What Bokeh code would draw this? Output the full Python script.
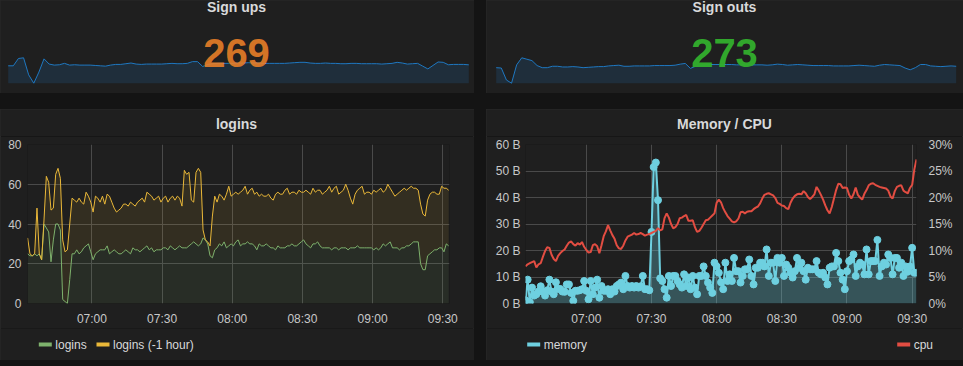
import pandas as pd
from bokeh.plotting import figure
from bokeh.layouts import row, column
from bokeh.models import (Range1d, LinearAxis, FixedTicker, DatetimeTickFormatter,
                          PrintfTickFormatter, Label, BoxAnnotation, ColumnDataSource, Plot)
from bokeh.embed import file_html
from bokeh.resources import INLINE

# ---------------- data ----------------
DAY = "2017-06-01"

signups_title = "Sign ups"
signups_value = "269"
signups = [255, 255, 360, 370, 125, 5, 165, 355, 280, 265,
           270, 290, 265, 270, 265, 265, 265, 260, 255, 250,
           265, 275, 275, 285, 295, 280, 275, 280, 280, 280,
           280, 285, 290, 285, 285, 290, 315, 315, 245, 275,
           285, 290, 290, 290, 290, 295, 295, 300, 295, 295,
           290, 290, 290, 290, 290, 295, 300, 305, 305, 295,
           290, 290, 295, 290, 290, 285, 285, 290, 290, 285,
           285, 285, 285, 280, 285, 290, 305, 295, 280, 285,
           290, 250, 210, 260, 310, 305, 270, 275, 275, 275, 269]

signouts_title = "Sign outs"
signouts_value = "273"
signouts = [230, 225, 55, 10, 270, 370, 350, 330, 260, 230,
            230, 250, 250, 240, 240, 245, 240, 230, 235, 240,
            245, 245, 255, 260, 265, 250, 250, 255, 255, 255,
            255, 260, 260, 260, 260, 265, 280, 290, 220, 250,
            260, 270, 275, 275, 275, 275, 275, 270, 270, 270,
            270, 270, 270, 265, 270, 280, 275, 265, 270, 275,
            270, 265, 260, 260, 260, 260, 255, 255, 255, 255,
            260, 265, 260, 255, 250, 265, 275, 270, 265, 260,
            225, 200, 230, 275, 275, 255, 250, 245, 250, 255, 250]

# logins, one value per minute from 06:32:30
logins = [25, 24, 24, 25, 24, 25, 22, 40, 38, 36,
          21, 32, 40, 40, 37, 2, 1, 0, 12, 25,
          25, 27, 25, 26, 28, 29, 30, 26, 22, 25,
          26, 27, 27, 27, 29, 25, 26, 27, 26, 25,
          25, 26, 27, 26, 25, 28, 27, 27, 26, 27,
          28, 29, 27, 28, 26, 27, 27, 27, 28, 28,
          27, 29, 28, 27, 28, 29, 28, 28, 28, 29,
          30, 31, 30, 29, 30, 33, 32, 30, 24, 23,
          27, 28, 30, 29, 31, 28, 29, 30, 29, 31,
          32, 29, 30, 30, 31, 30, 30, 29, 27, 30,
          29, 29, 30, 29, 28, 28, 27, 29, 28, 28,
          28, 29, 29, 30, 29, 29, 30, 31, 32, 30,
          29, 28, 30, 30, 31, 29, 28, 28, 28, 28,
          27, 28, 28, 27, 28, 28, 28, 27, 28, 28,
          28, 29, 28, 28, 28, 28, 28, 28, 27, 28,
          27, 28, 30, 29, 30, 31, 28, 28, 28, 27,
          28, 28, 29, 29, 30, 31, 31, 31, 20, 17,
          17, 24, 25, 26, 27, 27, 28, 28, 26, 30, 29]

# logins (-1 hour), stacked on top of logins in the panel
logins_prev = [8, 1, 0, 0, 24, 0, 0, 2, 26, 25,
               26, 16, 25, 28, 26, 30, 25, 27, 28, 28,
               27, 24, 28, 25, 22, 27, 24, 25, 24, 29,
               27, 24, 27, 23, 26, 29, 25, 21, 20, 22,
               23, 24, 23, 23, 26, 22, 22, 24, 26, 26,
               23, 27, 28, 26, 26, 26, 27, 24, 25, 26,
               24, 24, 26, 25, 26, 24, 21, 39, 37, 37,
               22, 20, 36, 39, 36, 4, 0, 1, 5, 21,
               27, 23, 25, 25, 21, 27, 30, 24, 26, 25,
               23, 27, 27, 29, 24, 27, 28, 26, 29, 24,
               26, 25, 24, 26, 25, 24, 28, 27, 27, 27,
               29, 29, 26, 26, 27, 26, 27, 25, 24, 27,
               27, 27, 28, 26, 26, 28, 27, 28, 29, 31,
               29, 30, 31, 28, 28, 29, 32, 30, 25, 22,
               27, 28, 30, 31, 27, 28, 28, 27, 30, 28,
               30, 30, 26, 28, 30, 27, 28, 26, 27, 29,
               29, 30, 28, 29, 29, 27, 27, 26, 30, 28,
               27, 28, 30, 30, 29, 28, 27, 31, 32, 28, 28]

# memory (B) and cpu (%), one value per minute from 06:32:00
memory = [1.2, 9, 0.5, 6, 3, 3.5, 4.5, 6.5, 4.5, 3,
          5, 9, 4.5, 3.5, 8, 5.5, 5.5, 4.5, 4.4, 7.2,
          7.2, 4, 1, 4.8, 4.8, 5, 5.4, 8.5, 4.8, 1.6,
          8.5, 3.5, 6, 9, 2.2, 6.6, 4.8, 4.8, 5.4, 3.5,
          5.4, 4.5, 6.6, 7.2, 7.9, 5.4, 10.4, 6.6, 6, 6.6,
          6, 6.6, 6, 6.5, 10.4, 5.4, 5.4, 5, 27, 51.5,
          53.2, 39, 9.5, 8.5, 5.4, 2.2, 10.4, 6.6, 10.4, 10.4,
          8.5, 7.2, 6, 11, 6.6, 9.8, 5.4, 10.4, 6, 3.5,
          10.4, 10.4, 14, 10.4, 7.9, 6, 4, 15.4, 14, 11.6,
          8, 5.4, 15.4, 8.5, 11, 8.5, 17.2, 12.2, 12.2, 7.9,
          10.4, 12.9, 12.9, 16.6, 10.4, 7.2, 13.5, 13.5, 15.4, 15.4,
          14, 20.4, 10.4, 15.4, 15.4, 8.5, 17.2, 15.4, 17.2, 10.4,
          14.7, 13.5, 11.6, 9.8, 12.2, 17.2, 13.5, 15.4, 12.2, 9,
          13.5, 12.9, 12.9, 12.9, 16, 11.6, 11, 11.6, 9.8, 7.2,
          13.5, 14, 14, 19.1, 16, 11.6, 9, 5.4, 12.2, 16,
          16.6, 18.5, 10.4, 14, 15.4, 14.7, 11, 20.4, 11, 16,
          16, 16, 24, 10.4, 14, 15.4, 14.7, 18.5, 17.2, 11,
          17.2, 17.2, 13.5, 15.4, 10.4, 14, 12, 14, 21, 11.6, 11.6]

cpu = [7.0, 7.4, 7.6, 7.8, 8.0, 6.8, 7.4, 7.6, 8.8, 9.9,
       10.6, 10.5, 9.2, 8.4, 8.0, 9.0, 9.5, 9.9, 10.2, 10.9,
       11.5, 11.7, 11.2, 10.9, 11.4, 11.1, 11.6, 10.7, 10.1, 9.6,
       9.7, 11.0, 11.2, 10.8, 9.5, 11.0, 12.7, 13.6, 14.8, 13.8,
       12.9, 12.2, 11.0, 10.4, 10.3, 10.9, 11.9, 12.6, 12.8, 13.0,
       13.3, 13.0, 13.1, 13.3, 13.1, 12.8, 13.0, 13.1, 13.3, 13.5,
       13.7, 14.2, 13.8, 14.0, 16.1, 17.0, 16.2, 15.0, 14.2, 14.4,
       15.0, 16.1, 16.2, 16.5, 16.7, 15.6, 15.6, 15.7, 14.4, 13.5,
       13.7, 14.3, 15.0, 15.7, 15.8, 16.2, 16.6, 17.0, 19.0, 19.6,
       19.1, 18.0, 17.2, 16.5, 16.0, 15.5, 15.3, 15.5, 16.0, 17.2,
       17.3, 17.0, 17.3, 17.4, 17.4, 17.8, 18.1, 18.3, 18.9, 19.8,
       20.5, 20.7, 20.8, 20.6, 20.4, 19.9, 19.0, 18.8, 18.5, 18.4,
       18.0, 17.8, 19.0, 19.8, 20.3, 20.6, 20.7, 20.6, 21.2, 20.8,
       20.1, 19.7, 20.1, 20.6, 22.0, 21.3, 20.5, 19.6, 18.5, 17.6,
       17.0, 18.2, 19.8, 21.4, 22.6, 22.5, 21.8, 21.9, 21.8, 20.5,
       19.8, 20.6, 21.9, 20.5, 20.0, 19.6, 20.7, 21.4, 22.3, 22.6,
       22.7, 22.4, 22.2, 22.0, 21.9, 21.8, 21.7, 21.3, 20.2, 19.8,
       21.2, 22.0, 22.2, 22.3, 21.3, 21.0, 20.8, 21.8, 22.4, 25.3, 27.2]

time_ticks = ["07:00", "07:30", "08:00", "08:30", "09:00", "09:30"]
logins_yticks = [0, 20, 40, 60, 80]
memory_yticks = [0, 10, 20, 30, 40, 50, 60]
cpu_yticks = [0, 5, 10, 15, 20, 25, 30]

# ---------------- styles ----------------
PAGE_BG = "#141414"
PANEL_BG = "#1f1f1f"
PANEL_EDGE = "#2a2a2a"
TEXT = "#d8d9da"
TICK = "#c8c8c8"
GRID = "#4a4a4a"
FONT = "Liberation Sans"
SPARK_LINE = "rgb(31,120,193)"
SPARK_FILL = "rgb(31,118,189)"
GREEN = "#7EB26D"
YELLOW = "#EAB839"
CYAN = "#6ED0E0"
RED = "#E24D42"
EDGE_STYLE = {"outline": f"1px solid {PANEL_EDGE}", "outline-offset": "-1px"}

# text strips (header, legend) should not have their frame aligned to the graph
CAN_UNALIGN = "frame_align" in Plot.properties()


def ts(hm):
    return pd.Timestamp(f"{DAY} {hm}")


def blank(width, height):
    p = figure(width=width, height=height, toolbar_location=None, output_backend="svg",
               min_border=0, x_axis_location=None, y_axis_location=None,
               x_range=Range1d(0, 1), y_range=Range1d(0, 1),
               background_fill_color=PANEL_BG, border_fill_color=PANEL_BG,
               outline_line_color=None)
    p.grid.visible = False
    if CAN_UNALIGN:
        p.frame_align = False
    return p


def text(p, x, y, s, size, color, bold=False, align="center"):
    p.add_layout(Label(x=x, y=y, x_units="screen", y_units="screen", text=s,
                       text_align=align, text_baseline="middle", text_font=FONT,
                       text_font_size=size, text_font_style="bold" if bold else "normal",
                       text_color=color))


def stat_panel(title, value, value_color, series, width, spark_left, spark_right, cx):
    h = 93
    p = blank(width, h)
    n = len(series) - 1
    span_px = spark_right - spark_left
    p.x_range = Range1d(-spark_left * n / span_px, (width - spark_left) * n / span_px)
    lo, hi = min(series), max(series)
    per_px = (hi - lo) / 25.4
    p.y_range = Range1d(lo - 10.3 * per_px, hi + (h - 35.7) * per_px)
    src = ColumnDataSource(dict(x=list(range(len(series))), y=series))
    p.varea(x="x", y1=lo, y2="y", source=src, fill_color=SPARK_FILL, fill_alpha=0.18)
    p.line(x="x", y="y", source=src, line_color=SPARK_LINE, line_width=1)
    text(p, cx, h - 6.2, title, "14px", TEXT, bold=True)
    text(p, cx, h - 52.1, value, "40px", value_color, bold=True)
    p.styles = EDGE_STYLE
    return p


def header(title, width, frame_left, cx):
    p = blank(width, 27)
    off = 0 if CAN_UNALIGN else frame_left
    text(p, cx - off, 12.5, title, "14px", TEXT, bold=True)
    return p


def legend_strip(width, frame_left, entries):
    # entries: (swatch_left, label, color) in panel pixels
    p = blank(width, 32)
    off = 0 if CAN_UNALIGN else frame_left
    for left, label, color in entries:
        x0 = left - off
        p.add_layout(BoxAnnotation(left=x0, right=x0 + 13, bottom=14, top=18,
                                   left_units="screen", right_units="screen",
                                   bottom_units="screen", top_units="screen",
                                   fill_color=color, fill_alpha=1, line_color=None))
        text(p, x0 + 16.5, 16, label, "12px", TEXT, align="left")
    return p


def style_axis(ax, standoff):
    ax.axis_line_color = None
    ax.major_tick_line_color = None
    ax.minor_tick_line_color = None
    ax.major_tick_out = 0
    ax.major_tick_in = 0
    ax.major_label_standoff = standoff
    ax.major_label_text_color = TICK
    ax.major_label_text_font = FONT
    ax.major_label_text_font_size = "12px"


def graph(width, x_start, x_end, y_max, yticks, border_left, border_right):
    p = figure(width=width, height=192, x_axis_type="datetime",
               x_range=Range1d(x_start, x_end), y_range=Range1d(0, y_max),
               toolbar_location=None, output_backend="svg",
               min_border_left=border_left, min_border_right=border_right,
               min_border_top=8, min_border_bottom=24,
               background_fill_color=PANEL_BG, border_fill_color=PANEL_BG,
               outline_line_color=None)
    p.xaxis.ticker = FixedTicker(ticks=[ts(t).value / 1e6 for t in time_ticks])
    p.xaxis.formatter = DatetimeTickFormatter(minutes="%H:%M", hourmin="%H:%M",
                                              hours="%H:%M")
    p.yaxis.ticker = FixedTicker(ticks=yticks)
    style_axis(p.xaxis[0], 8)
    p.xgrid.grid_line_color = GRID
    p.ygrid.grid_line_color = GRID
    return p


# ---------------- stat panels ----------------
p_up = stat_panel(signups_title, signups_value, "rgba(237,129,40,0.89)", signups,
                  474, 7.7, 468.3, 236)
p_out = stat_panel(signouts_title, signouts_value, "rgba(50,172,45,0.97)", signouts,
                   477, 9.7, 469.7, 238)

# ---------------- logins ----------------
LOG_LEFT = 27
login_times = pd.date_range(ts("06:32:30"), periods=len(logins), freq="min")
stack_top = [a + b for a, b in zip(logins, logins_prev)]
lsrc = ColumnDataSource(dict(t=login_times, a=logins, top=stack_top))
p_log = graph(474, ts("06:32:27"), ts("09:32:52"), 80, logins_yticks, LOG_LEFT, 25)
style_axis(p_log.yaxis[0], 6)
p_log.varea(x="t", y1=0, y2="a", source=lsrc, fill_color=GREEN, fill_alpha=0.1)
p_log.varea(x="t", y1="a", y2="top", source=lsrc, fill_color=YELLOW, fill_alpha=0.1)
p_log.line(x="t", y="a", source=lsrc, line_color=GREEN, line_width=1)
p_log.line(x="t", y="top", source=lsrc, line_color=YELLOW, line_width=1)
left_panel = column(header("logins", 474, LOG_LEFT, 236), p_log,
                    legend_strip(474, LOG_LEFT, [(38.3, "logins", GREEN),
                                                 (96, "logins (-1 hour)", YELLOW)]),
                    spacing=0)
left_panel.styles = EDGE_STYLE

# ---------------- memory / cpu ----------------
MEM_LEFT = 39
mem_times = pd.date_range(ts("06:32:00"), periods=len(memory), freq="min")
msrc = ColumnDataSource(dict(t=mem_times, mem=memory, cpu=cpu))
p_mem = graph(477, ts("06:32:00"), ts("09:32:00"), 60, memory_yticks, MEM_LEFT, 47)
p_mem.yaxis.formatter = PrintfTickFormatter(format="%d B")
style_axis(p_mem.yaxis[0], 5)
p_mem.extra_y_ranges = {"cpu": Range1d(0, 30)}
cpu_axis = LinearAxis(y_range_name="cpu", ticker=FixedTicker(ticks=cpu_yticks),
                      formatter=PrintfTickFormatter(format="%d%%"))
style_axis(cpu_axis, 12)
p_mem.add_layout(cpu_axis, "right")
p_mem.varea(x="t", y1=0, y2="mem", source=msrc, fill_color=CYAN, fill_alpha=0.3)
p_mem.line(x="t", y="mem", source=msrc, line_color=CYAN, line_width=2)
p_mem.scatter(x="t", y="mem", source=msrc, size=7, fill_color=CYAN, line_color=CYAN)
p_mem.line(x="t", y="cpu", source=msrc, line_color=RED, line_width=2, y_range_name="cpu")
right_panel = column(header("Memory / CPU", 477, MEM_LEFT, 238), p_mem,
                     legend_strip(477, MEM_LEFT, [(40.7, "memory", CYAN),
                                                  (410.7, "cpu", RED)]),
                     spacing=0)
right_panel.styles = EDGE_STYLE

layout = column(row(p_up, p_out, spacing=12), row(left_panel, right_panel, spacing=12),
                spacing=16)

html = file_html(layout, INLINE, title="Dashboard")
html = html.replace("</head>",
                    f"<style>html, body {{ background-color: {PAGE_BG}; }}</style></head>", 1)
open("out.html", "w").write(html)
